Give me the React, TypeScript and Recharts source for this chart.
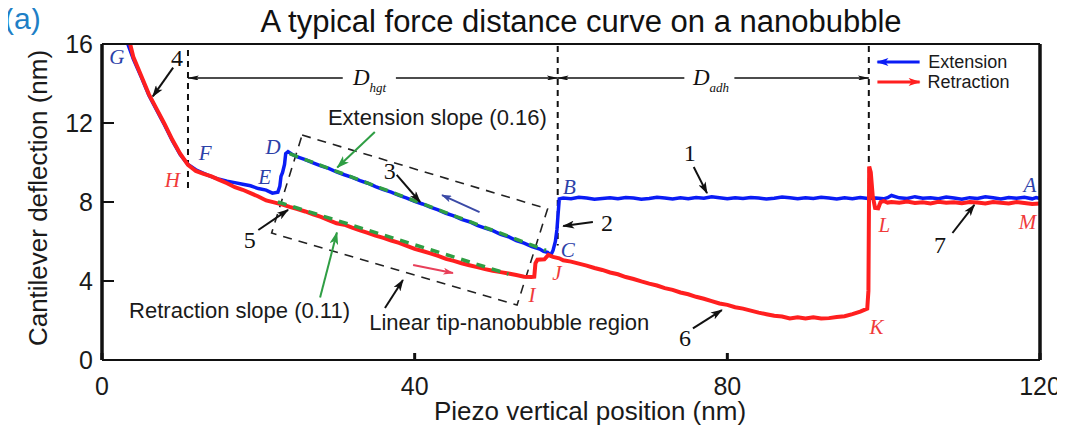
import React from 'react';
import { ComposedChart, Line, Scatter, XAxis, YAxis, ReferenceLine } from 'recharts';

type Pt = [number, number];
type Seg = [number, number, number, number];
type Tag = { x: number; y: number; t: string };

const xTicks = [0, 40, 80, 120];
const yTicks = [0, 4, 8, 12, 16];

// Extension curve, A -> B -> C -> D -> E -> F -> G
const extensionCurve: Pt[] = [
  [120, 8.18], [119.5, 8.22], [119, 8.16], [118, 8.24], [117, 8.19], [116, 8.23], [115, 8.15], [114, 8.21],
  [113, 8.26], [112, 8.18], [111, 8.22], [110, 8.14], [109, 8.2], [108, 8.25], [107, 8.17], [106, 8.22],
  [105, 8.19], [104, 8.27], [103, 8.18], [102, 8.21], [101, 8.33], [100.5, 8.22], [100, 8.16], [99, 8.2],
  [98, 8.18], [97, 8.23], [96, 8.17], [95, 8.21], [94, 8.15], [93, 8.2], [92, 8.24], [91, 8.18], [90, 8.22],
  [89, 8.16], [88, 8.21], [87, 8.25], [86, 8.19], [85, 8.15], [84, 8.2], [83, 8.23], [82, 8.18], [81, 8.21],
  [80, 8.16], [79, 8.22], [78, 8.27], [77, 8.19], [76, 8.23], [75, 8.17], [74, 8.21], [73, 8.15], [72, 8.2],
  [71, 8.24], [70, 8.18], [69, 8.14], [68, 8.2], [67, 8.23], [66, 8.16], [65, 8.21], [64, 8.18], [63, 8.14],
  [62, 8.2], [61, 8.24], [60, 8.17], [59, 8.2], [58.5, 8.16],
  [58.35, 7.4], [58.2, 6.6], [58.0, 6.0], [57.7, 5.55], [57.4, 5.3],
  [57, 5.45], [56.5, 5.5], [56, 5.62], [55, 5.74], [54, 5.92], [53, 6.05], [52, 6.24], [51, 6.36], [50, 6.55],
  [49, 6.68], [48, 6.82], [47, 7.0], [46, 7.12], [45, 7.3], [44, 7.43], [43, 7.6], [42, 7.74], [41, 7.9],
  [40, 8.03], [39, 8.2], [38, 8.33], [37, 8.5], [36, 8.63], [35, 8.78], [34, 8.95], [33, 9.08], [32, 9.25],
  [31, 9.38], [30, 9.52], [29, 9.7], [28, 9.83], [27, 9.98], [26, 10.15], [25, 10.28], [24.3, 10.42], [23.8, 10.55],
  [23.5, 10.45], [23.35, 9.9], [23.1, 9.5], [22.9, 9.3], [22.75, 8.8], [22.5, 8.5], [21.8, 8.45],
  [21, 8.6], [20, 8.68], [19, 8.82], [18, 8.9], [17, 8.98], [16, 9.05], [15, 9.15], [14, 9.28], [13, 9.45],
  [12, 9.63], [11, 9.9], [10, 10.4], [9, 11.1], [8, 11.9], [7, 12.65], [6, 13.4], [5, 14.35], [4, 15.25], [3.3, 16],
];

// Retraction curve, G -> H -> I -> J -> K -> L -> M
const retractionCurve: Pt[] = [
  [3.6, 16], [4, 15.35], [5, 14.4], [6, 13.45], [7, 12.7], [8, 11.95], [9, 11.15], [10, 10.45], [11, 9.88],
  [12, 9.57], [13, 9.42], [14, 9.3], [15, 9.12], [16, 8.95], [17, 8.75], [18, 8.62], [19, 8.45], [20, 8.28],
  [21, 8.08], [22, 7.98], [23, 7.88], [24, 7.75], [25, 7.64], [26, 7.52], [27, 7.38], [28, 7.25], [29, 7.08],
  [30, 6.92], [31, 6.85], [32, 6.7], [33, 6.56], [34, 6.44], [35, 6.3], [36, 6.18], [37, 6.05], [38, 5.93],
  [39, 5.78], [40, 5.63], [41, 5.52], [42, 5.4], [43, 5.27], [44, 5.12], [45, 5.02], [46, 4.9], [47, 4.8],
  [48, 4.7], [49, 4.6], [50, 4.52], [51, 4.45], [52, 4.38], [53, 4.3], [54, 4.22], [54.9, 4.2], [55.3, 4.22],
  [55.45, 4.9], [55.7, 5.08], [56.6, 5.1], [57.1, 5.32], [57.7, 5.22], [58.5, 5.15], [59, 5.05], [60, 4.98],
  [61, 4.88], [62, 4.78], [63, 4.66], [64, 4.56], [65, 4.43], [66, 4.34], [67, 4.2], [68, 4.1], [69, 3.98],
  [70, 3.87], [71, 3.77], [72, 3.64], [73, 3.55], [74, 3.42], [75, 3.33], [76, 3.2], [77, 3.1], [78, 2.98],
  [79, 2.86], [80, 2.79], [81, 2.67], [82, 2.6], [83, 2.5], [84, 2.4], [85, 2.32], [86, 2.24], [87, 2.2],
  [88, 2.1], [89, 2.16], [90, 2.1], [91, 2.16], [92, 2.1], [93, 2.12], [94, 2.18], [95, 2.22], [96, 2.32],
  [97, 2.45], [97.9, 2.6], [98.05, 3.5], [98.15, 9.8], [98.35, 9.5], [98.6, 8.3], [98.9, 7.7], [99.3, 7.68],
  [99.6, 8.0], [100, 8.05], [100.5, 7.97], [101, 8.0], [102, 7.96], [103, 8.02], [104, 7.95], [105, 7.99],
  [106, 7.93], [107, 8.01], [108, 7.96], [109, 7.99], [110, 7.94], [111, 8.0], [112, 7.97], [113, 7.92],
  [114, 8.0], [115, 7.96], [116, 7.93], [117, 8.0], [118, 7.95], [119, 7.9], [120, 7.93],
];

const extensionFit: Pt[] = [[24.0, 10.45], [56.8, 5.55]];
const retractionFit: Pt[] = [[22.5, 8.0], [52.0, 4.35]];
const regionBox: Pt[] = [[25.6, 11.39], [57.0, 7.65], [53.1, 2.78], [21.7, 6.43], [25.6, 11.39]];

const guideLines: Seg[] = [[11.0, 15.7, 11.0, 8.6], [58.3, 15.9, 58.3, 5.8], [98.1, 15.9, 98.1, 5.0]];
const dimArrows: Seg[] = [
  [30.8, 14.28, 11.0, 14.28], [37.6, 14.28, 58.3, 14.28],
  [74.5, 14.28, 58.3, 14.28], [80.9, 14.28, 98.1, 14.28],
];
const blackArrows: Seg[] = [
  [75.7, 9.77, 77.4, 8.45],
  [62.8, 6.99, 59.0, 6.78],
  [37.7, 9.37, 40.7, 8.0],
  [9.1, 14.8, 6.5, 13.35],
  [20.0, 6.58, 23.8, 7.6],
  [75.6, 1.6, 79.3, 2.53],
  [108.8, 6.43, 111.6, 7.85],
  [36.2, 2.63, 38.5, 4.05],
];
const greenArrows: Seg[] = [[34.9, 11.54, 30.1, 9.75], [27.9, 3.16, 30.05, 6.45]];
const directionArrows: Seg[] = [[48.3, 7.49, 43.5, 8.35], [39.8, 4.81, 44.9, 4.4]];
const legendLines: Seg[] = [[104.6, 15.09, 99.2, 15.09], [99.2, 14.08, 104.6, 14.08]];

const blueLetters: Tag[] = [
  { x: 118.7, y: 8.86, t: 'A' }, { x: 59.8, y: 8.77, t: 'B' }, { x: 59.6, y: 5.57, t: 'C' },
  { x: 21.9, y: 10.8, t: 'D' }, { x: 20.8, y: 9.27, t: 'E' }, { x: 13.2, y: 10.5, t: 'F' },
  { x: 1.9, y: 15.35, t: 'G' },
];
const redLetters: Tag[] = [
  { x: 9.0, y: 9.1, t: 'H' }, { x: 55.0, y: 3.3, t: 'I' }, { x: 58.2, y: 4.4, t: 'J' },
  { x: 99.1, y: 1.67, t: 'K' }, { x: 100.1, y: 6.84, t: 'L' }, { x: 118.4, y: 7.0, t: 'M' },
];
const numberLabels: Tag[] = [
  { x: 75.2, y: 10.5, t: '1' }, { x: 64.6, y: 6.94, t: '2' }, { x: 36.8, y: 9.55, t: '3' },
  { x: 9.6, y: 15.3, t: '4' }, { x: 18.9, y: 6.08, t: '5' }, { x: 74.6, y: 1.1, t: '6' },
  { x: 107.2, y: 5.82, t: '7' },
];
const noteLabels: Tag[] = [
  { x: 42.9, y: 12.3, t: 'Extension slope (0.16)' },
  { x: 17.6, y: 2.53, t: 'Retraction slope (0.11)' },
  { x: 52.1, y: 1.92, t: 'Linear tip-nanobubble region' },
];
const dimLabels = [
  { x: 32.1, y: 14.3, t: 'D', sub: 'hgt' },
  { x: 75.6, y: 14.3, t: 'D', sub: 'adh' },
];
const legendLabels: Tag[] = [
  { x: 105.7, y: 15.09, t: 'Extension' },
  { x: 105.6, y: 14.08, t: 'Retraction' },
];

const sans = "'Liberation Sans', Arial, Helvetica, sans-serif";
const serif = "'Liberation Serif', 'Times New Roman', serif";
const BLUE = '#0a1cf5';
const RED = '#ff1f1f';
const GREEN = '#2f9e44';
const BLUE_TXT = '#2c41a8';
const RED_TXT = '#f03a3a';

const toXY = (pts: Pt[]) => pts.map(([x, y]) => ({ x, y }));

const textShape = (opts: any) => (p: any) => (
  <text
    x={p.cx}
    y={p.cy}
    textAnchor={opts.anchor || 'middle'}
    dominantBaseline="central"
    fill={opts.fill}
    fontFamily={opts.family}
    fontStyle={opts.italic ? 'italic' : 'normal'}
    fontSize={opts.size}
  >
    {p.payload.t}
  </text>
);

const dimShape = (p: any) => (
  <text x={p.cx} y={p.cy} textAnchor="start" dominantBaseline="central" fill="#111" fontFamily={serif} fontStyle="italic" fontSize={23}>
    {p.payload.t}
    <tspan fontSize={13} dy={9}>{p.payload.sub}</tspan>
  </text>
);

const seg = (s: Seg) => [{ x: s[0], y: s[1] }, { x: s[2], y: s[3] }];

export default function App() {
  return (
    <div style={{ position: 'relative', width: 1057, height: 418 }}>
      <svg width={0} height={0} style={{ position: 'absolute' }}>
        <defs>
          <marker id="ahBlack" viewBox="0 0 12 8" refX="11" refY="4" markerWidth="13" markerHeight="8" markerUnits="userSpaceOnUse" orient="auto">
            <path d="M0,0 L12,4 L0,8 L3,4 z" fill="#111" />
          </marker>
          <marker id="ahThin" viewBox="0 0 14 6" refX="13" refY="3" markerWidth="14" markerHeight="5" markerUnits="userSpaceOnUse" orient="auto">
            <path d="M0,0 L14,3 L0,6 L3,3 z" fill="#111" />
          </marker>
          <marker id="ahGreen" viewBox="0 0 12 8" refX="11" refY="4" markerWidth="13" markerHeight="9" markerUnits="userSpaceOnUse" orient="auto">
            <path d="M0,0 L12,4 L0,8 L3,4 z" fill={GREEN} />
          </marker>
          <marker id="ahBlueDir" viewBox="0 0 12 8" refX="11" refY="4" markerWidth="12" markerHeight="7" markerUnits="userSpaceOnUse" orient="auto">
            <path d="M0,0 L12,4 L0,8 L3,4 z" fill="#3b4aa6" />
          </marker>
          <marker id="ahRedDir" viewBox="0 0 12 8" refX="11" refY="4" markerWidth="12" markerHeight="7" markerUnits="userSpaceOnUse" orient="auto">
            <path d="M0,0 L12,4 L0,8 L3,4 z" fill="#e8405a" />
          </marker>
          <marker id="ahBlueLeg" viewBox="0 0 12 8" refX="11" refY="4" markerWidth="14" markerHeight="8" markerUnits="userSpaceOnUse" orient="auto">
            <path d="M0,0 L12,4 L0,8 L3,4 z" fill={BLUE} />
          </marker>
          <marker id="ahRedLeg" viewBox="0 0 12 8" refX="11" refY="4" markerWidth="14" markerHeight="8" markerUnits="userSpaceOnUse" orient="auto">
            <path d="M0,0 L12,4 L0,8 L3,4 z" fill={RED} />
          </marker>
        </defs>
      </svg>
      <div style={{ position: 'absolute', left: -4, top: -4.4, fontFamily: sans, fontSize: 30, lineHeight: '30px', color: '#1e7fc6', whiteSpace: 'nowrap' }}>(a)</div>
      <div style={{ position: 'absolute', left: 573, top: -2.25, transform: 'translateX(-50%)', fontFamily: sans, fontSize: 31, lineHeight: '31px', color: '#111', whiteSpace: 'nowrap' }}>
        A typical force distance curve on a nanobubble
      </div>
      <ComposedChart width={1057} height={418} margin={{ top: 26, right: 8, bottom: 0, left: 0 }}>
        <XAxis
          type="number"
          dataKey="x"
          domain={[0, 120]}
          ticks={xTicks}
          height={66}
          tickSize={-7}
          tickMargin={24}
          axisLine={{ stroke: '#111', strokeWidth: 2 }}
          tickLine={{ stroke: '#111', strokeWidth: 3 }}
          tick={{ fill: '#1a1a1a', fontSize: 25, fontFamily: sans }}
          label={{
            content: (p: any) => (
              <text x={p.viewBox.x + p.viewBox.width / 2 + 19} y={p.viewBox.y + 51} textAnchor="middle" dominantBaseline="central" fill="#1a1a1a" fontSize={26} fontFamily={sans}>
                Piezo vertical position (nm)
              </text>
            ),
          }}
        />
        <XAxis xAxisId="t" orientation="top" type="number" dataKey="x" domain={[0, 120]} ticks={xTicks} height={10} tickSize={-7} tick={false}
          axisLine={{ stroke: '#111', strokeWidth: 2 }} tickLine={{ stroke: '#111', strokeWidth: 3 }} />
        <YAxis
          type="number"
          dataKey="y"
          domain={[0, 16]}
          ticks={yTicks}
          width={94}
          tickSize={-12}
          tickMargin={21}
          axisLine={{ stroke: '#111', strokeWidth: 3.5 }}
          tickLine={{ stroke: '#111', strokeWidth: 2 }}
          tick={{ fill: '#1a1a1a', fontSize: 25, fontFamily: sans }}
          label={{
            content: (p: any) => {
              const cx = 30;
              const cy = p.viewBox.y + p.viewBox.height / 2 - 4;
              return (
                <text x={cx} y={cy} transform={`rotate(-90, ${cx}, ${cy})`} textAnchor="middle" dominantBaseline="central" fill="#1a1a1a" fontSize={26} fontFamily={sans}>
                  Cantilever deflection (nm)
                </text>
              );
            },
          }}
        />
        <YAxis yAxisId="r" orientation="right" type="number" domain={[0, 16]} ticks={yTicks} width={17} tickSize={-12} tick={false}
          axisLine={{ stroke: '#111', strokeWidth: 3.5 }} tickLine={{ stroke: '#111', strokeWidth: 2 }} />

        {guideLines.map((s, i) => (
          <ReferenceLine key={`g${i}`} segment={seg(s)} ifOverflow="visible" stroke="#111" strokeWidth={2} strokeDasharray="6 5" />
        ))}
        {dimArrows.map((s, i) => (
          <ReferenceLine key={`d${i}`} segment={seg(s)} ifOverflow="visible" stroke="#111" strokeWidth={1.5} markerEnd="url(#ahThin)" />
        ))}

        <Line data={toXY(regionBox)} dataKey="y" type="linear" stroke="#222" strokeWidth={1.6} strokeDasharray="9 7" dot={false} activeDot={false} isAnimationActive={false} />
        <Line data={toXY(extensionCurve)} dataKey="y" type="linear" stroke={BLUE} strokeWidth={3.5} dot={false} activeDot={false} isAnimationActive={false} />
        <Line data={toXY(retractionCurve)} dataKey="y" type="linear" stroke={RED} strokeWidth={4} dot={false} activeDot={false} isAnimationActive={false} />
        <Line data={toXY(extensionFit)} dataKey="y" type="linear" stroke={GREEN} strokeWidth={3.5} strokeDasharray="9 7" dot={false} activeDot={false} isAnimationActive={false} />
        <Line data={toXY(retractionFit)} dataKey="y" type="linear" stroke={GREEN} strokeWidth={3.5} strokeDasharray="9 7" dot={false} activeDot={false} isAnimationActive={false} />

        {blackArrows.map((s, i) => (
          <ReferenceLine key={`b${i}`} segment={seg(s)} ifOverflow="visible" stroke="#111" strokeWidth={2} markerEnd="url(#ahBlack)" />
        ))}
        {greenArrows.map((s, i) => (
          <ReferenceLine key={`gr${i}`} segment={seg(s)} ifOverflow="visible" stroke={GREEN} strokeWidth={2} markerEnd="url(#ahGreen)" />
        ))}
        <ReferenceLine segment={seg(directionArrows[0])} ifOverflow="visible" stroke="#3b4aa6" strokeWidth={2} markerEnd="url(#ahBlueDir)" />
        <ReferenceLine segment={seg(directionArrows[1])} ifOverflow="visible" stroke="#e8405a" strokeWidth={2} markerEnd="url(#ahRedDir)" />
        <ReferenceLine segment={seg(legendLines[0])} ifOverflow="visible" stroke={BLUE} strokeWidth={3} markerEnd="url(#ahBlueLeg)" />
        <ReferenceLine segment={seg(legendLines[1])} ifOverflow="visible" stroke={RED} strokeWidth={3} markerEnd="url(#ahRedLeg)" />

        <Scatter data={blueLetters} isAnimationActive={false} shape={textShape({ fill: BLUE_TXT, family: serif, italic: true, size: 21 })} />
        <Scatter data={redLetters} isAnimationActive={false} shape={textShape({ fill: RED_TXT, family: serif, italic: true, size: 21 })} />
        <Scatter data={numberLabels} isAnimationActive={false} shape={textShape({ fill: '#111', family: serif, size: 24 })} />
        <Scatter data={noteLabels} isAnimationActive={false} shape={textShape({ fill: '#1a1a1a', family: sans, size: 22 })} />
        <Scatter data={legendLabels} isAnimationActive={false} shape={textShape({ fill: '#1a1a1a', family: sans, size: 18, anchor: 'start' })} />
        <Scatter data={dimLabels} isAnimationActive={false} shape={dimShape} />
      </ComposedChart>
    </div>
  );
}
